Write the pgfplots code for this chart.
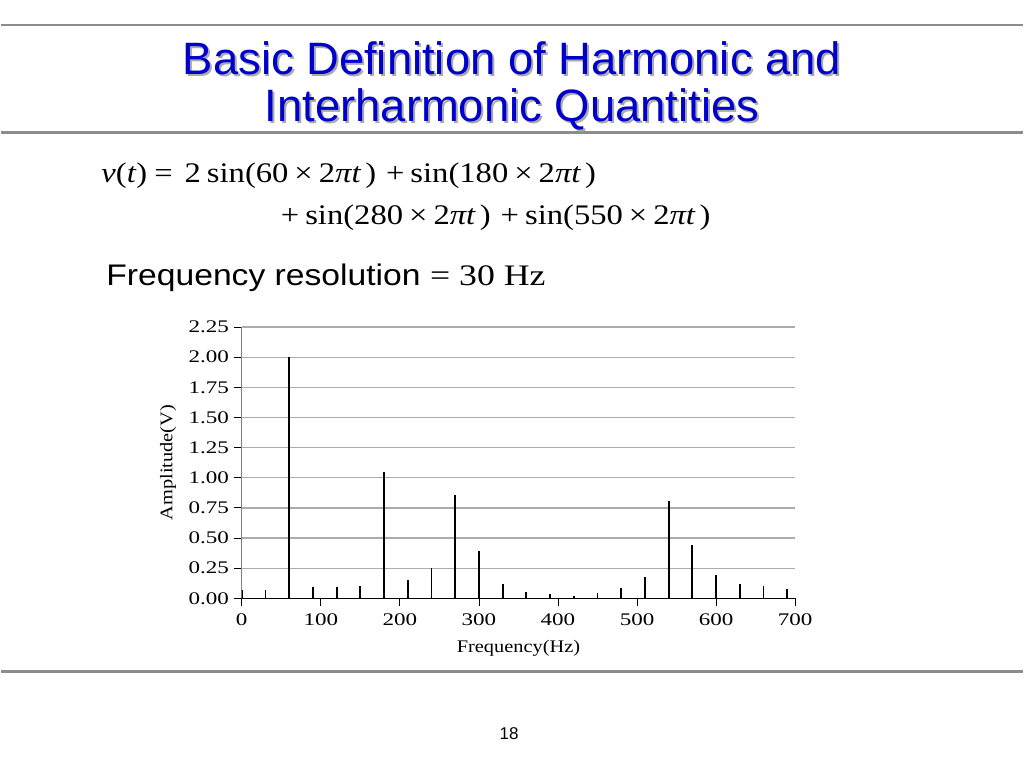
\documentclass[border=0pt]{standalone}
\usepackage{pgfplots}
\pgfplotsset{compat=1.18}
\usepackage{fontspec}
\setmainfont{Liberation Sans}
\newfontfamily\eqfont[FakeStretch=1.15]{Liberation Serif}
\newfontfamily\hzfont[FakeStretch=1.2]{Liberation Serif}
\newfontfamily\txtfont[FakeStretch=1.13]{Liberation Sans}
\newfontfamily\tickfont[FakeStretch=1.3]{Liberation Serif}
\newfontfamily\labfont[FakeStretch=1.15]{Liberation Serif}
\definecolor{titleblue}{RGB}{0,0,204}
\definecolor{shadowgray}{RGB}{170,170,170}
\definecolor{rulegray}{RGB}{140,140,140}
\newlength\px
\setlength\px{0.703125pt}

\begin{document}
\begin{tikzpicture}[x=0.703125pt,y=-0.703125pt]
% slide frame, in pixels
\path (0,0) rectangle (1024,768);
\draw[rulegray,line width=2pt] (0,25) -- (1024,25);
\draw[rulegray,line width=2pt] (0,133) -- (1024,133);
\draw[rulegray,line width=2pt] (0,673) -- (1024,673);

% title with shadow
\foreach \c/\dx in {shadowgray/2,titleblue/0}{
  \node[anchor=base,text=\c,font=\fontsize{32}{38}\selectfont,inner sep=0pt]
    at (512+\dx,75+\dx) {Basic Definition of Harmonic and};
  \node[anchor=base,text=\c,font=\fontsize{32}{38}\selectfont,inner sep=0pt]
    at (512+\dx,122+\dx) {Interharmonic Quantities};
}

% equation
\node[anchor=base west,inner sep=0pt,font=\eqfont\fontsize{20}{24}\selectfont] at (100,183)
  {\textit{v}(\textit{t})\hspace{7\px}=\hspace{12\px}2\hspace{6\px}sin(60\hspace{6\px}×\hspace{6\px}2\textit{πt}\hspace{4\px})\hspace{10\px}+\hspace{6\px}sin(180\hspace{6\px}×\hspace{6\px}2\textit{πt}\hspace{4\px})};
\node[anchor=base west,inner sep=0pt,font=\eqfont\fontsize{20}{24}\selectfont] at (280,225)
  {+\hspace{6\px}sin(280\hspace{6\px}×\hspace{6\px}2\textit{πt}\hspace{4\px})\hspace{10\px}+\hspace{6\px}sin(550\hspace{6\px}×\hspace{6\px}2\textit{πt}\hspace{4\px})};

\node[anchor=base west,inner sep=0pt,font=\txtfont\fontsize{21}{25}\selectfont] at (105,286)
  {Frequency resolution {\hzfont = 30 Hz}};

\node[anchor=base,inner sep=0pt,font=\fontsize{12}{14}\selectfont] at (509,742) {18};

\coordinate (O) at (241,600);
\begin{axis}[
  at={(O)}, anchor=south west,
  scale only axis, width=390.2pt, height=191.3pt,
  xmin=0, xmax=700, ymin=0, ymax=2.25,
  axis lines*=left, axis line style={-},
  x axis line style={black,line width=1pt},
  y axis line style={gray,line width=1pt},
  ymajorgrids, grid style={gray!65,line width=0.9pt},
  xtick={0,100,200,300,400,500,600,700},
  ytick={0,0.25,0.5,0.75,1,1.25,1.5,1.75,2,2.25},
  yticklabel style={/pgf/number format/.cd,fixed,fixed zerofill,precision=2},
  xticklabel style={yshift=-2pt},
  /pgf/number format/assume math mode=true,
  tick label style={font=\tickfont\fontsize{12.5}{14}\selectfont},
  tick align=outside, major tick length=5.5pt,
  tick style={black,line width=0.6pt},
  xlabel={Frequency(Hz)}, ylabel={Amplitude(V)},
  label style={font=\labfont\fontsize{12.5}{14}\selectfont},
  xlabel style={at={(axis description cs:0.5,0)},anchor=center,yshift=-35pt},
  ylabel style={at={(axis description cs:0,0.5)},anchor=center,rotate=0,yshift=52pt},
]
\addplot[ycomb,black,line width=1.3pt,mark=none] coordinates {
  (0,0.07) (30,0.07) (60,2.00) (90,0.09) (120,0.09) (150,0.10)
  (180,1.05) (210,0.15) (240,0.25) (270,0.86) (300,0.39) (330,0.12)
  (360,0.055) (390,0.033) (420,0.017) (450,0.044) (480,0.083) (510,0.18)
  (540,0.81) (570,0.44) (600,0.19) (630,0.12) (660,0.10) (690,0.08)
};
\end{axis}
\end{tikzpicture}
\end{document}
